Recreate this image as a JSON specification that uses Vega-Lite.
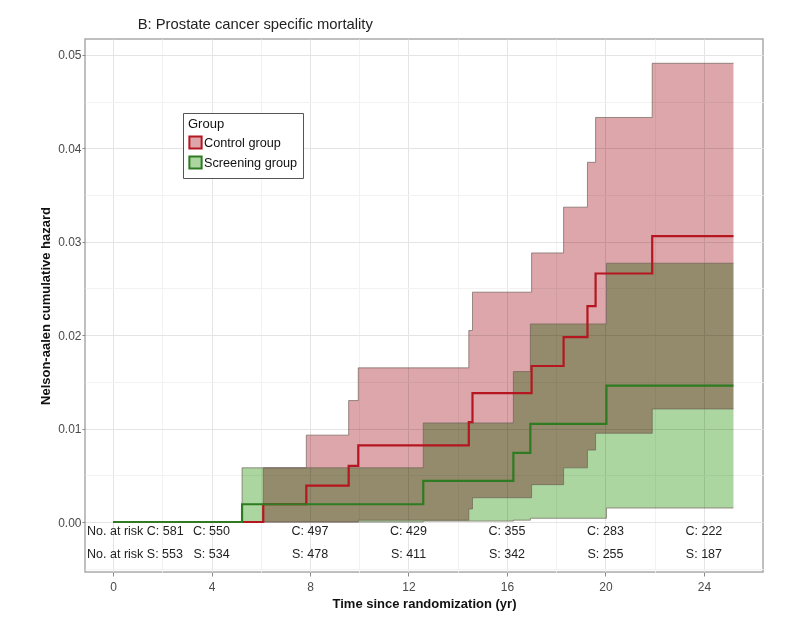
{
  "$schema": "https://vega.github.io/schema/vega-lite/v6.json",
  "width": 678,
  "height": 533,
  "autosize": {"type": "none"},
  "padding": {"left": 85, "top": 39, "right": 24, "bottom": 46},
  "background": "white",
  "title": {"text": "B: Prostate cancer specific mortality", "anchor": "start", "dx": 98, "fontSize": 14.8, "fontWeight": "normal", "font": "Liberation Sans", "color": "#222222", "offset": 7},
  "datasets": {
    "curves": [
      {"g": "Control group", "t": 0, "est": 0, "lo": 0, "hi": 0},
      {"g": "Control group", "t": 6.1, "est": 0.0019, "lo": 0, "hi": 0.0058},
      {"g": "Control group", "t": 7.85, "est": 0.0039, "lo": 0, "hi": 0.0093},
      {"g": "Control group", "t": 9.57, "est": 0.006, "lo": 0, "hi": 0.013},
      {"g": "Control group", "t": 9.96, "est": 0.0082, "lo": 0.0002, "hi": 0.0165},
      {"g": "Control group", "t": 14.45, "est": 0.0107, "lo": 0.0014, "hi": 0.0205},
      {"g": "Control group", "t": 14.6, "est": 0.0138, "lo": 0.0026, "hi": 0.0246},
      {"g": "Control group", "t": 17.0, "est": 0.0167, "lo": 0.004, "hi": 0.0288},
      {"g": "Control group", "t": 18.3, "est": 0.0198, "lo": 0.0058, "hi": 0.0337},
      {"g": "Control group", "t": 19.27, "est": 0.0231, "lo": 0.0077, "hi": 0.0385},
      {"g": "Control group", "t": 19.6, "est": 0.0266, "lo": 0.0095, "hi": 0.0433},
      {"g": "Control group", "t": 21.9, "est": 0.0306, "lo": 0.0121, "hi": 0.0491},
      {"g": "Control group", "t": 25.2, "est": 0.0306, "lo": 0.0121, "hi": 0.0491},
      {"g": "Screening group", "t": 0, "est": 0, "lo": 0, "hi": 0},
      {"g": "Screening group", "t": 5.24, "est": 0.0019, "lo": 0, "hi": 0.0058},
      {"g": "Screening group", "t": 12.6, "est": 0.0044, "lo": 0.0001, "hi": 0.0106},
      {"g": "Screening group", "t": 16.26, "est": 0.0074, "lo": 0.0002, "hi": 0.0161},
      {"g": "Screening group", "t": 16.95, "est": 0.0105, "lo": 0.0004, "hi": 0.0212},
      {"g": "Screening group", "t": 20.04, "est": 0.0146, "lo": 0.0015, "hi": 0.0277},
      {"g": "Screening group", "t": 25.2, "est": 0.0146, "lo": 0.0015, "hi": 0.0277}
    ],
    "risk": [
      {"t": 0, "row": "C", "label": "No. at risk C: 581"},
      {"t": 4, "row": "C", "label": "C: 550"},
      {"t": 8, "row": "C", "label": "C: 497"},
      {"t": 12, "row": "C", "label": "C: 429"},
      {"t": 16, "row": "C", "label": "C: 355"},
      {"t": 20, "row": "C", "label": "C: 283"},
      {"t": 24, "row": "C", "label": "C: 222"},
      {"t": 0, "row": "S", "label": "No. at risk S: 553"},
      {"t": 4, "row": "S", "label": "S: 534"},
      {"t": 8, "row": "S", "label": "S: 478"},
      {"t": 12, "row": "S", "label": "S: 411"},
      {"t": 16, "row": "S", "label": "S: 342"},
      {"t": 20, "row": "S", "label": "S: 255"},
      {"t": 24, "row": "S", "label": "S: 187"}
    ]
  },
  "encoding": {
    "x": {
      "field": "t",
      "type": "quantitative",
      "scale": {"domain": [-1.14, 26.4], "nice": false, "zero": false},
      "axis": {
        "title": "Time since randomization (yr)",
        "values": [0, 2, 4, 6, 8, 10, 12, 14, 16, 18, 20, 22, 24],
        "labelExpr": "datum.value % 4 === 0 ? datum.label : ''",
        "format": "d",
        "grid": true,
        "gridColor": {"condition": {"test": "datum.value % 4 === 0", "value": "#e4e4e4"}, "value": "#f2f2f2"},
        "tickColor": {"condition": {"test": "datum.value % 4 === 0", "value": "#8a8a8a"}, "value": "transparent"},
        "tickSize": 4,
        "domain": false,
        "labelPadding": 5,
        "titlePadding": 5
      }
    }
  },
  "layer": [
    {
      "data": {"name": "curves"},
      "mark": {"type": "area", "interpolate": "step-after", "blend": "multiply"},
      "encoding": {
        "y": {
          "field": "hi",
          "type": "quantitative",
          "scale": {"domain": [-0.00535, 0.0517], "nice": false, "zero": false},
          "axis": {
            "title": "Nelson-aalen cumulative hazard",
            "values": [-0.005, 0, 0.005, 0.01, 0.015, 0.02, 0.025, 0.03, 0.035, 0.04, 0.045, 0.05],
            "labelExpr": "abs(round(datum.value * 1000)) % 10 === 0 ? format(datum.value, '.2f') : ''",
            "grid": true,
            "gridColor": {"condition": {"test": "abs(round(datum.value * 1000)) % 10 === 0", "value": "#e4e4e4"}, "value": "#f2f2f2"},
            "tickColor": {"condition": {"test": "abs(round(datum.value * 1000)) % 10 === 0", "value": "#8a8a8a"}, "value": "transparent"},
            "tickSize": 3,
            "domain": false,
            "labelPadding": 1,
            "titlePadding": 5
          }
        },
        "y2": {"field": "lo"},
        "fill": {
          "field": "g",
          "type": "nominal",
          "scale": {"domain": ["Control group", "Screening group"], "range": ["#dca6ab", "#abd6a0"]},
          "legend": {"title": "Group"}
        }
      }
    },
    {
      "data": {"name": "curves"},
      "mark": {"type": "line", "interpolate": "step-after", "color": "#6e6158", "strokeWidth": 0.8, "opacity": 0.85},
      "encoding": {
        "y": {"field": "hi", "type": "quantitative", "scale": {"domain": [-0.00535, 0.0517], "nice": false, "zero": false}},
        "detail": {"field": "g"}
      }
    },
    {
      "data": {"name": "curves"},
      "mark": {"type": "line", "interpolate": "step-after", "color": "#6e6158", "strokeWidth": 0.8, "opacity": 0.85},
      "encoding": {
        "y": {"field": "lo", "type": "quantitative", "scale": {"domain": [-0.00535, 0.0517], "nice": false, "zero": false}},
        "detail": {"field": "g"}
      }
    },
    {
      "data": {"name": "curves"},
      "mark": {"type": "line", "interpolate": "step-after", "strokeWidth": 2.2},
      "encoding": {
        "y": {"field": "est", "type": "quantitative", "scale": {"domain": [-0.00535, 0.0517], "nice": false, "zero": false}},
        "stroke": {
          "field": "g",
          "type": "nominal",
          "scale": {"domain": ["Control group", "Screening group"], "range": ["#b5161f", "#2e7b22"]},
          "legend": {"title": "Group"}
        }
      }
    },
    {
      "data": {"name": "risk"},
      "transform": [{"filter": "datum.row === 'C' && datum.t > 0"}],
      "mark": {"type": "text", "align": "center", "baseline": "middle", "fontSize": 12.5, "color": "#222222"},
      "encoding": {
        "y": {"datum": -0.00095, "type": "quantitative", "scale": {"domain": [-0.00535, 0.0517], "nice": false, "zero": false}},
        "text": {"field": "label"}
      }
    },
    {
      "data": {"name": "risk"},
      "transform": [{"filter": "datum.row === 'S' && datum.t > 0"}],
      "mark": {"type": "text", "align": "center", "baseline": "middle", "fontSize": 12.5, "color": "#222222"},
      "encoding": {
        "y": {"datum": -0.0034, "type": "quantitative", "scale": {"domain": [-0.00535, 0.0517], "nice": false, "zero": false}},
        "text": {"field": "label"}
      }
    },
    {
      "data": {"name": "risk"},
      "transform": [{"filter": "datum.row === 'C' && datum.t === 0"}],
      "mark": {"type": "text", "align": "left", "baseline": "middle", "dx": -26, "fontSize": 12.5, "color": "#222222"},
      "encoding": {
        "y": {"datum": -0.00095, "type": "quantitative", "scale": {"domain": [-0.00535, 0.0517], "nice": false, "zero": false}},
        "text": {"field": "label"}
      }
    },
    {
      "data": {"name": "risk"},
      "transform": [{"filter": "datum.row === 'S' && datum.t === 0"}],
      "mark": {"type": "text", "align": "left", "baseline": "middle", "dx": -26, "fontSize": 12.5, "color": "#222222"},
      "encoding": {
        "y": {"datum": -0.0034, "type": "quantitative", "scale": {"domain": [-0.00535, 0.0517], "nice": false, "zero": false}},
        "text": {"field": "label"}
      }
    }
  ],
  "config": {
    "font": "Liberation Sans",
    "view": {"stroke": "#aaaaaa", "strokeWidth": 1.5},
    "axis": {
      "labelFont": "Liberation Sans",
      "labelFontSize": 12,
      "labelColor": "#4a4a4a",
      "titleFont": "Liberation Sans",
      "titleFontSize": 13,
      "titleFontWeight": "bold",
      "titleColor": "#111111"
    },
    "legend": {
      "orient": "none",
      "legendX": 98,
      "legendY": 74,
      "strokeColor": "#555555",
      "fillColor": "white",
      "padding": 5,
      "titleFontSize": 13,
      "titleFontWeight": "normal",
      "titleColor": "#111111",
      "titlePadding": 4,
      "labelFontSize": 12.7,
      "labelColor": "#111111",
      "symbolType": "square",
      "symbolSize": 150,
      "symbolStrokeWidth": 2,
      "rowPadding": -1,
      "labelOffset": 1
    }
  }
}
